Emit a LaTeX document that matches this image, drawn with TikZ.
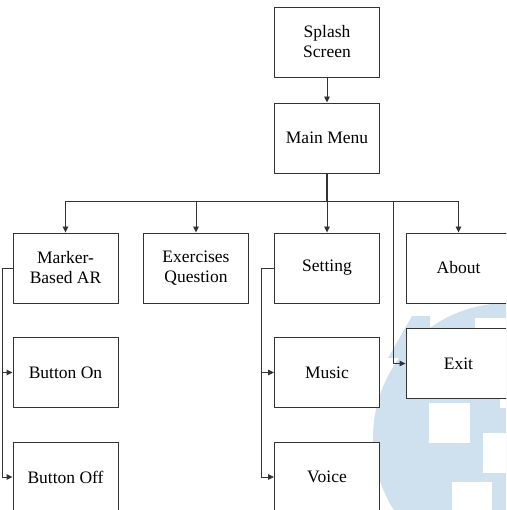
\documentclass[tikz,border=0pt]{standalone}
\usepackage{fontspec}
\setmainfont{Liberation Serif}
\usetikzlibrary{arrows.meta}
\definecolor{wm}{HTML}{CFE0EF}
\definecolor{ln}{HTML}{333333}
\begin{document}
\begin{tikzpicture}[x=1pt,y=-1pt,
  box/.style={draw=ln,line width=0.9pt,fill=white,minimum width=105pt,minimum height=70pt,inner sep=0pt,align=center,font=\fontsize{17.5}{20}\selectfont},
  conn/.style={draw=ln,line width=0.9pt},
  arr/.style={conn,-{Triangle[length=6pt,width=5.5pt]}}]
\useasboundingbox (0,0) rectangle (506,510);
\begin{scope}
\clip (0,0) rectangle (506,510);
% watermark
\fill[wm] (508,438) circle[radius=135];
\fill[wm] (388,358) -- (412,316) -- (430,316) -- (430,358) -- cycle;
\fill[white] (429,403) rectangle (470,443);
\fill[white] (483,433) rectangle (510,473);
\fill[white] (452,482) rectangle (492,515);
\fill[white] (475,318) rectangle (510,331);
\fill[white] (500,396) rectangle (510,408);
% nodes
\node[box] (splash) at (327,42) {Splash\\Screen};
\node[box] (main) at (327,138) {Main Menu};
\node[box] (marker) at (65.5,268) {Marker-\\Based AR};
\node[box] (exer) at (196,268) {Exercises\\Question};
\node[box] (setting) at (327,268) {Setting};
\node[box] (about) at (458.5,268) {About};
\node[box] (exit) at (458.5,363.5) {Exit};
\node[box] (bon) at (65.5,372.5) {Button On};
\node[box] (boff) at (65.5,477) {Button Off};
\node[box] (music) at (327,372.5) {Music};
\node[box] (voice) at (327,477) {Voice};
\coordinate (bus) at (327,201);
\coordinate (exk) at (393,363.5);
% connectors
\draw[arr] (splash) -- (main);
\draw[conn,line width=1.6pt] (main.south) -- (bus);
\draw[arr] (bus) -| (marker.north);
\draw[arr] (bus) -| (exer.north);
\draw[arr] (bus) -- (setting.north);
\draw[arr] (bus) -| (about.north);
\draw[arr] (bus) -| (exk) -- (exit.west);
\draw[arr] (marker.west) -- ++(-10,0) |- (bon.west);
\draw[arr] (marker.west) -- ++(-10,0) |- (boff.west);
\draw[arr] (setting.west) -- ++(-13,0) |- (music.west);
\draw[arr] (setting.west) -- ++(-13,0) |- (voice.west);
\end{scope}
\end{tikzpicture}
\end{document}
